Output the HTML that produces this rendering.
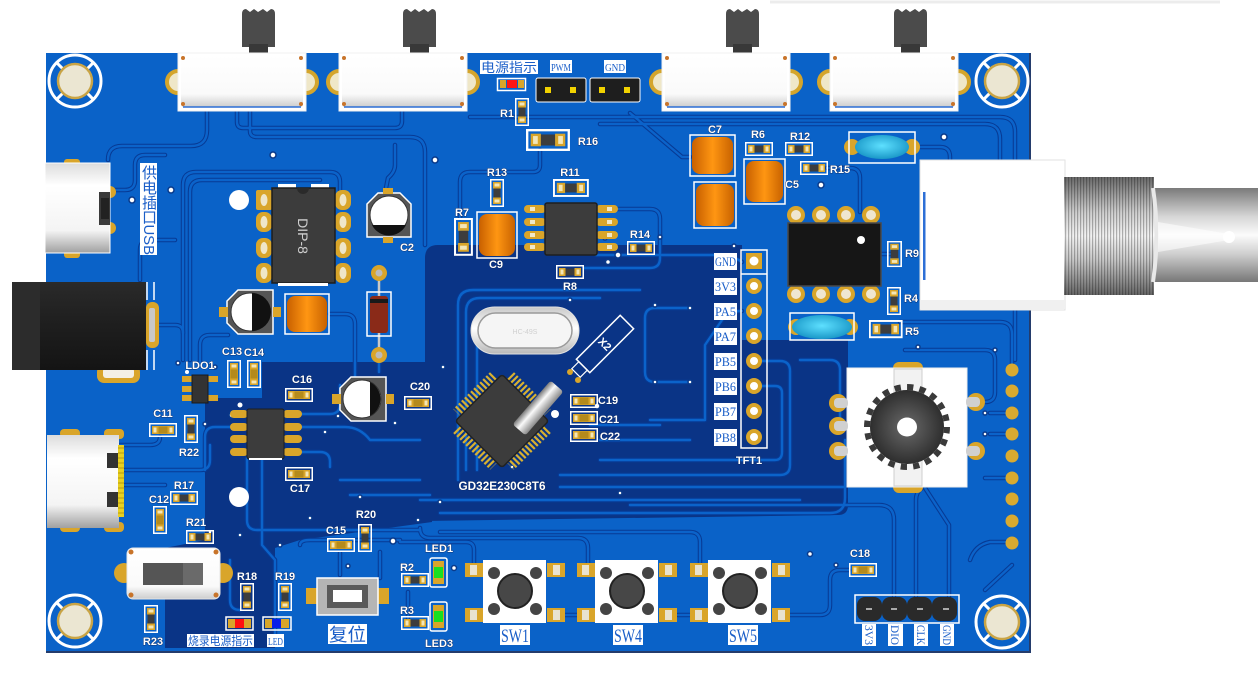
<!DOCTYPE html>
<html><head><meta charset="utf-8"><style>
html,body{margin:0;padding:0;background:#fff;}
svg{display:block;}
.l{font:bold 11px "Liberation Sans",sans-serif;fill:#fff;stroke:#0a2660;stroke-width:0.8px;paint-order:stroke;}
.cn{font-family:"Liberation Serif","Noto Serif CJK SC",serif;fill:#1a5ec8;}
.cs{font-family:"Liberation Sans","Noto Sans CJK SC",sans-serif;fill:#1a5ec8;}
</style></head><body>
<svg width="1258" height="688" viewBox="0 0 1258 688" xmlns="http://www.w3.org/2000/svg" xmlns:xlink="http://www.w3.org/1999/xlink">
<defs>
<linearGradient id="org" x1="0" y1="0" x2="1" y2="0"><stop offset="0" stop-color="#c86000"/><stop offset="0.5" stop-color="#ff9612"/><stop offset="1" stop-color="#c86200"/></linearGradient>
<linearGradient id="slv" x1="0" y1="0" x2="0" y2="1"><stop offset="0" stop-color="#c8c8c8"/><stop offset="0.45" stop-color="#ffffff"/><stop offset="1" stop-color="#b8b8b8"/></linearGradient>
<linearGradient id="cyl" x1="0" y1="0" x2="0" y2="1"><stop offset="0" stop-color="#7a7a7a"/><stop offset="0.4" stop-color="#fafafa"/><stop offset="1" stop-color="#8a8a8a"/></linearGradient>
<linearGradient id="brl" x1="0" y1="0" x2="0" y2="1"><stop offset="0" stop-color="#7a7a7a"/><stop offset="0.3" stop-color="#d5d5d5"/><stop offset="0.5" stop-color="#fbfbfb"/><stop offset="0.7" stop-color="#cfcfcf"/><stop offset="1" stop-color="#777"/></linearGradient>
<linearGradient id="thr" x1="0" y1="0" x2="0" y2="1"><stop offset="0" stop-color="#6a6a6a"/><stop offset="0.3" stop-color="#cfcfcf"/><stop offset="0.5" stop-color="#f2f2f2"/><stop offset="0.7" stop-color="#c8c8c8"/><stop offset="1" stop-color="#666"/></linearGradient>
<pattern id="thp" width="3" height="10" patternUnits="userSpaceOnUse"><rect x="0" y="0" width="1.2" height="10" fill="rgba(0,0,0,0.28)"/></pattern>
<radialGradient id="gear" cx="0.5" cy="0.5" r="0.5"><stop offset="0" stop-color="#6a6a6a"/><stop offset="1" stop-color="#2e2e2e"/></radialGradient>
<radialGradient id="cyan" cx="0.5" cy="0.45" r="0.55"><stop offset="0" stop-color="#5ee0ff"/><stop offset="1" stop-color="#1a98c8"/></radialGradient>
<linearGradient id="jack" x1="0" y1="0" x2="0" y2="1"><stop offset="0" stop-color="#2a2a2a"/><stop offset="0.5" stop-color="#1e1e1e"/><stop offset="1" stop-color="#141414"/></linearGradient>
<linearGradient id="usb" x1="0" y1="0" x2="0" y2="1"><stop offset="0" stop-color="#dcdcdc"/><stop offset="0.25" stop-color="#ffffff"/><stop offset="0.75" stop-color="#f4f4f4"/><stop offset="1" stop-color="#a0a0a0"/></linearGradient>
<linearGradient id="swg" x1="0" y1="0" x2="0" y2="1"><stop offset="0" stop-color="#ffffff"/><stop offset="0.75" stop-color="#fafafa"/><stop offset="1" stop-color="#cdcdcd"/></linearGradient>

<g id="rh"><rect x="0.75" y="0.75" width="26.5" height="12.5" fill="none" stroke="#fff" stroke-width="1.5"/><rect x="3" y="3" width="6.5" height="8" fill="#d9a52a"/><rect x="18.5" y="3" width="6.5" height="8" fill="#d9a52a"/><rect x="4.5" y="4.5" width="3" height="5" fill="#f3e6b8"/><rect x="20.5" y="4.5" width="3" height="5" fill="#f3e6b8"/><rect x="9.5" y="3.5" width="9" height="7" fill="#3d3d3d"/></g>
<g id="ch"><rect x="0.75" y="0.75" width="26.5" height="12.5" fill="none" stroke="#fff" stroke-width="1.5"/><rect x="3" y="3" width="22" height="8" fill="#d9a52a"/><rect x="4.5" y="4.5" width="3" height="5" fill="#f3e6b8"/><rect x="20.5" y="4.5" width="3" height="5" fill="#f3e6b8"/><rect x="9.5" y="3.5" width="9" height="7" fill="#b48a1c"/></g>
<g id="rv"><use xlink:href="#rh" transform="translate(14,0) rotate(90)"/></g>
<g id="cv"><use xlink:href="#ch" transform="translate(14,0) rotate(90)"/></g>

<g id="sw">
 <path d="M64 14 Q64 9 68 9 L72 12 L76 9 L80 12 L85 9 L89 12 L93 9 Q97 9 97 14 V47 H64 Z" fill="#4b4b4b"/>
 <rect x="71" y="44" width="19" height="9" fill="#383838"/>
 <circle cx="0" cy="82" r="11" fill="#efe7c8" stroke="#d4a52c" stroke-width="4"/>
 <circle cx="128" cy="82" r="11" fill="#efe7c8" stroke="#d4a52c" stroke-width="4"/>
 <rect x="0" y="53" width="128" height="58" fill="#fff" stroke="#f0f0f0"/>
 <rect x="3" y="55" width="122" height="52" rx="3" fill="url(#swg)"/>
 <line x1="5" y1="107" x2="123" y2="107" stroke="#2d6fd6" stroke-width="1.5"/>
 <circle cx="5" cy="58" r="2" fill="#c8742a"/><circle cx="123" cy="58" r="2" fill="#c8742a"/>
 <circle cx="5" cy="104" r="2" fill="#c8742a"/><circle cx="123" cy="104" r="2" fill="#c8742a"/>
</g>
<g id="mh">
 <circle r="26" fill="none" stroke="#fff" stroke-width="3"/>
 <g stroke="#fff" stroke-width="3"><line x1="12.7" y1="12.7" x2="18.4" y2="18.4"/><line x1="-12.7" y1="12.7" x2="-18.4" y2="18.4"/><line x1="12.7" y1="-12.7" x2="18.4" y2="-18.4"/><line x1="-12.7" y1="-12.7" x2="-18.4" y2="-18.4"/></g>
 <circle r="17" fill="#ebe6d2" stroke="#c9a445" stroke-width="2.5"/>
</g>
<g id="tact">
 <g fill="#d9a52a"><rect x="-50" y="-28" width="18" height="14"/><rect x="32" y="-28" width="18" height="14"/><rect x="-50" y="17" width="18" height="14"/><rect x="32" y="17" width="18" height="14"/></g>
 <g fill="#e8e2d0"><rect x="-45" y="-26" width="7" height="10"/><rect x="38" y="-26" width="7" height="10"/><rect x="-45" y="19" width="7" height="10"/><rect x="38" y="19" width="7" height="10"/></g>
 <rect x="-32" y="-31" width="63" height="63" fill="#fff"/>
 <g fill="#444"><circle cx="-21" cy="-18" r="6"/><circle cx="21" cy="-18" r="6"/><circle cx="-21" cy="18" r="6"/><circle cx="21" cy="18" r="6"/></g>
 <circle r="17" fill="#474747" stroke="#222" stroke-width="2"/>
</g>
<g id="tr" fill="none" stroke-linecap="round" stroke-linejoin="round">
 <path d="M207 111 V130 Q207 146 191 146 H122 Q108 146 108 160"/>
 <path d="M237 111 V122 Q237 128 243 128 H395 Q402 128 402 121 V111"/>
 <path d="M250 111 V131 Q250 137 257 137 H410 Q425 137 425 152 V245"/>
 <path d="M183 360 V185 Q183 172 196 172 H330 Q340 172 340 182 V190"/>
 <path d="M190 360 V192 Q190 180 202 180 H320"/>
 <path d="M470 117 H1000 Q1015 117 1015 132 V360"/>
 <path d="M600 124 H985 Q1000 124 1000 139 V180"/>
 <path d="M630 113 L682 157 H690"/>
 <path d="M395 145 V165 Q395 172 388 178 L385 193"/>
 <path d="M540 150 V165 Q540 172 533 172 H470 Q460 172 460 182 V218"/>
 <path d="M618 209 H650 Q660 209 660 219 V258 Q660 268 650 268 H584"/>
 <path d="M827 168 H850 Q860 168 860 178 V212"/>
 <path d="M913 147 H940 Q950 147 950 157 V175"/>
 <path d="M881 254 H895"/>
 <path d="M900 322 H1000 Q1012 322 1012 334 V370"/>
 <path d="M990 413 H1012 M990 434 H1012 M985 478 H1012"/>
 <path d="M967 402 H985 Q995 402 995 392 V360 Q995 350 985 350 H905"/>
 <path d="M474 568 V550 Q474 542 466 542 H400"/>
 <path d="M588 568 V548 Q588 538 578 538 H430 Q420 538 420 528"/>
 <path d="M700 568 V542 Q700 532 690 532 H440"/>
 <path d="M565 615 H588 M678 615 H700"/>
 <path d="M790 615 H820 Q830 615 830 605 V580 Q830 570 840 570 H849"/>
 <path d="M894 596 V520 Q894 505 879 505 H630"/>
 <path d="M916 596 V500 Q916 492 922 488"/>
 <path d="M949 596 V525 L925 488"/>
 <path d="M970 560 Q975 545 990 542 L1012 542"/>
 <path d="M985 590 L1012 565"/>
 <path d="M120 445 H150 Q160 445 160 437"/>
 <path d="M125 470 H200 Q210 470 210 460 V445"/>
 <path d="M125 485 H165"/>
 <path d="M200 365 V345 Q200 335 210 335 H228"/>
 <path d="M110 190 H125 Q135 190 135 180 V165 Q135 155 145 155 H165"/>
 <path d="M158 325 H175 Q183 325 183 333"/>
 <path d="M330 314 H345 Q355 314 355 324 V377"/>
 <path d="M379 355 V372"/>
 <path d="M340 553 V575 M380 552 V578"/>
 <path d="M408 592 V618"/>
 <path d="M458 480 V305 Q458 290 473 290 H640"/>
 <path d="M466 470 V312 Q466 298 480 298 H600"/>
 <path d="M477 470 V345"/>
 <path d="M560 487 H845"/>
 <path d="M420 500 H800"/>
 <path d="M440 513 H830 Q845 513 845 498 V440"/>
 <path d="M690 308 H655 Q645 308 645 318 V372 Q645 382 655 382 H690"/>
 <path d="M762 361 H780 Q790 361 790 371 V465 Q790 475 780 475 H560"/>
 <path d="M762 386 H775 Q782 386 782 393 V452 Q782 460 775 460 H600"/>
 <path d="M742 311 Q728 311 722 320 L705 345 V420 H650"/>
 <path d="M596 255 H722 Q732 255 742 262"/>
 <path d="M600 440 H690 M590 425 H660"/>
 <path d="M800 360 H830 Q840 360 840 370 V420"/>
 <path d="M302 414 H330 Q340 414 340 404 V385"/>
 <path d="M302 427 H345 Q360 427 370 440 H420"/>
 <path d="M302 452 H320 Q330 452 330 462 V467"/>
 <path d="M230 427 H215 Q205 427 205 437 V470"/>
 <path d="M247 458 V520 Q247 530 257 530 H420"/>
 <path d="M262 458 V545 L275 560 V640"/>
 <path d="M340 480 H420 M350 495 H430"/>
 <path d="M230 560 V600 Q230 610 240 610"/>
 <path d="M300 545 Q300 540 310 540 H400"/>
 <path d="M140 280 V250 Q140 240 150 240 H175"/>
</g>
</defs>

<!-- faint top line -->
<line x1="770" y1="2" x2="1220" y2="2" stroke="#ececec" stroke-width="3"/>

<!-- board -->
<rect x="46" y="53" width="985" height="600" fill="#0a62c8"/>
<line x1="46" y1="652" x2="1031" y2="652" stroke="#243c6c" stroke-width="2"/>
<line x1="1030" y1="53" x2="1030" y2="653" stroke="#243c6c" stroke-width="2"/>

<!-- navy pours -->
<path d="M425 258 Q425 245 438 245 L742 245 L742 340 L848 340 L848 505 Q848 515 838 515 L425 521 Z" fill="#0a3486"/>
<path d="M205 398 L262 398 L262 362 L432 362 L432 522 L300 540 L275 548 L275 648 L165 648 L165 548 L205 540 Z" fill="#0a3486"/>

<!-- traces -->
<use xlink:href="#tr" stroke="#073a94" stroke-width="4.5"/>
<use xlink:href="#tr" stroke="#0b63ca" stroke-width="2.4"/>

<!-- vias -->
<g fill="#fff" stroke="#0a3a8a" stroke-width="1.5">
<circle cx="132" cy="200" r="3"/><circle cx="171" cy="190" r="3"/><circle cx="273" cy="155" r="3"/><circle cx="435" cy="160" r="3"/><circle cx="944" cy="137" r="3"/><circle cx="821" cy="185" r="3"/><circle cx="872" cy="276" r="2.5"/><circle cx="608" cy="262" r="2.5"/><circle cx="660" cy="237" r="2"/><circle cx="734" cy="246" r="2"/><circle cx="655" cy="305" r="2"/><circle cx="690" cy="308" r="2"/><circle cx="655" cy="382" r="2"/><circle cx="690" cy="382" r="2"/><circle cx="570" cy="300" r="2"/><circle cx="443" cy="367" r="2"/><circle cx="440" cy="502" r="2"/><circle cx="620" cy="493" r="2"/><circle cx="810" cy="554" r="2.5"/><circle cx="836" cy="565" r="2"/><circle cx="900" cy="479" r="2"/><circle cx="995" cy="350" r="2"/><circle cx="985" cy="413" r="2"/><circle cx="985" cy="434" r="2"/><circle cx="918" cy="347" r="2"/><circle cx="276" cy="444" r="2"/><circle cx="232" cy="415" r="3"/><circle cx="205" cy="424" r="2"/><circle cx="215" cy="367" r="2"/><circle cx="178" cy="363" r="2"/><circle cx="210" cy="532" r="2"/><circle cx="240" cy="535" r="2"/><circle cx="280" cy="545" r="2"/><circle cx="310" cy="518" r="2"/><circle cx="393" cy="541" r="3"/><circle cx="348" cy="566" r="2"/><circle cx="454" cy="568" r="2.5"/><circle cx="360" cy="497" r="2"/><circle cx="418" cy="520" r="2"/><circle cx="325" cy="432" r="2"/><circle cx="338" cy="416" r="2"/><circle cx="395" cy="423" r="2"/><circle cx="512" cy="467" r="2"/><circle cx="597" cy="406" r="3"/><circle cx="605" cy="238" r="2"/><circle cx="618" cy="255" r="3"/>
</g>

<!-- mounting holes -->
<use xlink:href="#mh" transform="translate(75,81)"/>
<use xlink:href="#mh" transform="translate(1002,81)"/>
<use xlink:href="#mh" transform="translate(75,621)"/>
<use xlink:href="#mh" transform="translate(1002,622)"/>

<!-- top slide switches -->
<use xlink:href="#sw" x="178"/>
<use xlink:href="#sw" x="339"/>
<use xlink:href="#sw" x="662"/>
<use xlink:href="#sw" x="830"/>

<!-- top labels & headers -->
<rect x="480" y="60" width="58" height="14" fill="#fff"/>
<text x="509" y="72" class="cs" font-size="13" text-anchor="middle" textLength="56" lengthAdjust="spacingAndGlyphs">电源指示</text>
<rect x="550" y="60" width="22" height="13" fill="#fff"/>
<text x="561" y="71" class="cn" font-size="10" text-anchor="middle" textLength="20" lengthAdjust="spacingAndGlyphs">PWM</text>
<rect x="604" y="60" width="22" height="13" fill="#fff"/>
<text x="615" y="71" class="cn" font-size="10" text-anchor="middle" textLength="20" lengthAdjust="spacingAndGlyphs">GND</text>
<rect x="536" y="78" width="50" height="24" rx="2" fill="#1e1e1e" stroke="#fff" stroke-width="1"/>
<rect x="590" y="78" width="50" height="24" rx="2" fill="#1e1e1e" stroke="#fff" stroke-width="1"/>
<g fill="#f2d200"><rect x="545" y="87" width="6" height="6"/><rect x="570" y="87" width="6" height="6"/><rect x="599" y="87" width="6" height="6"/><rect x="624" y="87" width="6" height="6"/></g>
<rect x="497.5" y="78.5" width="28" height="12" fill="none" stroke="#fff" stroke-width="1.5"/>
<rect x="500" y="80" width="6" height="8" fill="#d9a52a"/><rect x="518" y="80" width="6" height="8" fill="#d9a52a"/>
<rect x="507" y="80" width="10" height="8" fill="#ff1414"/>

<!-- resistors / caps -->
<use xlink:href="#rv" transform="translate(515,98)"/>
<use xlink:href="#rh" transform="translate(526,129) scale(1.57)"/>
<use xlink:href="#rv" transform="translate(490,179)"/>
<use xlink:href="#rh" transform="translate(553,179) scale(1.28)"/>
<use xlink:href="#rv" transform="translate(454,218) scale(1.35)"/>
<use xlink:href="#rh" transform="translate(556,265)"/>
<use xlink:href="#rh" transform="translate(627,241)"/>
<use xlink:href="#rh" transform="translate(745,142)"/>
<use xlink:href="#rh" transform="translate(785,142)"/>
<use xlink:href="#rh" transform="translate(800,161)"/>
<use xlink:href="#rv" transform="translate(887,241) scale(1.07,0.93)"/>
<use xlink:href="#rv" transform="translate(887,287)"/>
<use xlink:href="#rh" transform="translate(869,320) scale(1.2,1.3)"/>
<use xlink:href="#rh" transform="translate(170,491)"/>
<use xlink:href="#rh" transform="translate(186,530)"/>
<use xlink:href="#rh" transform="translate(401,573)"/>
<use xlink:href="#rh" transform="translate(401,616)"/>
<use xlink:href="#rv" transform="translate(184,415)"/>
<use xlink:href="#rv" transform="translate(144,605)"/>
<use xlink:href="#rv" transform="translate(240,583)"/>
<use xlink:href="#rv" transform="translate(278,583)"/>
<use xlink:href="#rv" transform="translate(358,524)"/>
<use xlink:href="#ch" transform="translate(285,388)"/>
<use xlink:href="#ch" transform="translate(285,467)"/>
<use xlink:href="#ch" transform="translate(404,396)"/>
<use xlink:href="#ch" transform="translate(570,394)"/>
<use xlink:href="#ch" transform="translate(570,411)"/>
<use xlink:href="#ch" transform="translate(570,428)"/>
<use xlink:href="#ch" transform="translate(149,423)"/>
<use xlink:href="#ch" transform="translate(327,538)"/>
<use xlink:href="#ch" transform="translate(849,563)"/>
<use xlink:href="#cv" transform="translate(227,360)"/>
<use xlink:href="#cv" transform="translate(247,360)"/>
<use xlink:href="#cv" transform="translate(153,506)"/>

<!-- orange tantalum caps -->
<g stroke="#fff" stroke-width="1.5">
<rect x="690" y="135" width="45" height="41" fill="none"/><rect x="694" y="182" width="42" height="46" fill="none"/><rect x="744" y="159" width="41" height="45" fill="none"/><rect x="477" y="212" width="40" height="46" fill="none"/><rect x="285" y="294" width="44" height="40" fill="none"/>
</g>
<g fill="url(#org)">
<rect x="692" y="137" width="41" height="37" rx="8"/><rect x="696" y="184" width="38" height="42" rx="8"/><rect x="746" y="161" width="37" height="41" rx="8"/><rect x="479" y="214" width="36" height="42" rx="8"/><rect x="287" y="296" width="40" height="36" rx="8"/>
</g>

<!-- cyan parts -->
<circle cx="852" cy="147" r="8" fill="#d9a52a"/><circle cx="912" cy="147" r="8" fill="#d9a52a"/>
<rect x="849" y="132" width="66" height="31" fill="none" stroke="#fff" stroke-width="1.5"/>
<ellipse cx="882" cy="147" rx="27" ry="12" fill="url(#cyan)"/>
<circle cx="796" cy="327" r="8" fill="#d9a52a"/><circle cx="850" cy="327" r="8" fill="#d9a52a"/>
<rect x="790" y="313" width="64" height="27" fill="none" stroke="#fff" stroke-width="1.5"/>
<ellipse cx="822" cy="327" rx="30" ry="12" fill="url(#cyan)"/>

<!-- SOIC8 top -->
<g fill="#d9a52a"><rect x="524" y="205" width="22" height="8" rx="4"/><rect x="524" y="218" width="22" height="8" rx="4"/><rect x="524" y="231" width="22" height="8" rx="4"/><rect x="524" y="243" width="22" height="8" rx="4"/><rect x="596" y="205" width="22" height="8" rx="4"/><rect x="596" y="218" width="22" height="8" rx="4"/><rect x="596" y="231" width="22" height="8" rx="4"/><rect x="596" y="243" width="22" height="8" rx="4"/></g>
<g fill="#f1e8c8"><rect x="530" y="207" width="5" height="4"/><rect x="530" y="220" width="5" height="4"/><rect x="530" y="233" width="5" height="4"/><rect x="530" y="245" width="5" height="4"/><rect x="607" y="207" width="5" height="4"/><rect x="607" y="220" width="5" height="4"/><rect x="607" y="233" width="5" height="4"/><rect x="607" y="245" width="5" height="4"/></g>
<rect x="545" y="203" width="52" height="52" rx="2" fill="#3c3c3c" stroke="#1e1e1e" stroke-width="1.5"/>

<!-- DIP-8 left -->
<g fill="#d9a52a"><rect x="256" y="190" width="16" height="20" rx="2"/><rect x="256" y="212" width="16" height="20" rx="7"/><rect x="256" y="238" width="16" height="20" rx="7"/><rect x="256" y="263" width="16" height="20" rx="7"/><rect x="335" y="190" width="16" height="20" rx="7"/><rect x="335" y="212" width="16" height="20" rx="7"/><rect x="335" y="238" width="16" height="20" rx="7"/><rect x="335" y="263" width="16" height="20" rx="7"/></g>
<g fill="#efe6c8"><ellipse cx="264" cy="200" rx="3.5" ry="6"/><ellipse cx="264" cy="222" rx="3.5" ry="6"/><ellipse cx="264" cy="248" rx="3.5" ry="6"/><ellipse cx="264" cy="273" rx="3.5" ry="6"/><ellipse cx="343" cy="200" rx="3.5" ry="6"/><ellipse cx="343" cy="222" rx="3.5" ry="6"/><ellipse cx="343" cy="248" rx="3.5" ry="6"/><ellipse cx="343" cy="273" rx="3.5" ry="6"/></g>
<rect x="278" y="184" width="18" height="5" fill="#fff"/><rect x="311" y="184" width="18" height="5" fill="#fff"/>
<rect x="272" y="188" width="63" height="95" fill="#3c3c3c" stroke="#1c1c1c" stroke-width="1.5"/>
<path d="M297 188 A6 6 0 0 0 309 188 Z" fill="#2a2a2a"/>
<text transform="translate(298,236) rotate(90)" font-family="Liberation Sans,sans-serif" font-size="14" fill="#cfcfcf" text-anchor="middle">DIP-8</text>
<rect x="278" y="283" width="50" height="3" fill="#fff"/>

<!-- electrolytic caps -->
<path d="M378 193 H400 L411 204 V237 H367 V204 Z" fill="#555" stroke="#fff" stroke-width="1.5"/>
<rect x="383" y="188" width="10" height="6" fill="#d9a52a"/><rect x="383" y="237" width="10" height="6" fill="#d9a52a"/>
<circle cx="389" cy="215" r="19" fill="#fff" stroke="#333"/>
<path d="M372 225 H406 A19 19 0 0 1 372 225 Z" fill="#111"/>
<path d="M238 290 H273 V334 H238 L227 323 V301 Z" fill="#555" stroke="#fff" stroke-width="1.5"/>
<rect x="219" y="307" width="9" height="10" fill="#d9a52a"/><rect x="273" y="307" width="8" height="10" fill="#d9a52a"/>
<circle cx="250" cy="312" r="19" fill="#fff" stroke="#333"/>
<path d="M252 293 A19 19 0 0 1 252 331 Z" fill="#111"/>
<path d="M351 377 H386 V421 H351 L340 410 V388 Z" fill="#555" stroke="#fff" stroke-width="1.5"/>
<rect x="332" y="394" width="9" height="10" fill="#d9a52a"/><rect x="386" y="394" width="8" height="10" fill="#d9a52a"/>
<circle cx="362" cy="399" r="19" fill="#fff" stroke="#333"/>
<path d="M370 382 A19 19 0 0 1 370 416 Z" fill="#111"/>

<!-- diode -->
<line x1="379" y1="280" x2="379" y2="348" stroke="#c8c8c8" stroke-width="2.5"/>
<circle cx="379" cy="273" r="8" fill="#d9a52a"/><circle cx="379" cy="273" r="3.5" fill="#bbb"/>
<circle cx="379" cy="355" r="8" fill="#d9a52a"/><circle cx="379" cy="355" r="3.5" fill="#bbb"/>
<rect x="367" y="292" width="24" height="44" fill="none" stroke="#fff" stroke-width="1.5"/>
<rect x="370" y="296" width="18" height="37" rx="3" fill="#8a2a18"/>
<rect x="370" y="299" width="18" height="4" fill="#1a1a1a"/>

<!-- white holes -->
<circle cx="239" cy="200" r="10" fill="#fff"/>
<circle cx="239" cy="497" r="10" fill="#fff"/>

<!-- USB top-left -->
<rect x="64" y="159" width="16" height="8" rx="3" fill="#d9a52a"/><rect x="64" y="250" width="16" height="8" rx="3" fill="#d9a52a"/>
<circle cx="110" cy="192" r="6" fill="#d9a52a"/><circle cx="110" cy="228" r="6" fill="#d9a52a"/>
<rect x="45" y="163" width="65" height="90" fill="url(#usb)" stroke="#fff"/>
<rect x="99" y="192" width="11" height="33" fill="#3a3a3a"/><rect x="101" y="198" width="8" height="21" fill="#222"/>
<rect x="140" y="163" width="17" height="92" fill="#fff"/>
<text x="148.5" y="165" class="cs" font-size="15" style="writing-mode:vertical-rl;glyph-orientation-vertical:0" textLength="90" lengthAdjust="spacingAndGlyphs">供电插口USB</text>

<!-- DC jack -->
<rect x="97" y="365" width="43" height="18" rx="7" fill="#d9a52a"/><rect x="103" y="368" width="31" height="10" rx="3" fill="#f4f0e4"/>
<rect x="146" y="302" width="13" height="46" rx="6" fill="#d9a52a"/><rect x="149" y="308" width="6" height="34" rx="2" fill="#c8c8c8"/>
<path d="M147 282 V300 M154 282 V300 M147 350 V370 M154 350 V370" stroke="#fff" stroke-width="1.5"/>
<rect x="12" y="282" width="134" height="88" fill="url(#jack)"/>
<rect x="12" y="282" width="28" height="88" fill="#2c2c2c"/>

<!-- USB-C lower -->
<g fill="#d9a52a"><rect x="60" y="429" width="20" height="9" rx="4"/><rect x="104" y="429" width="20" height="10" rx="4"/><rect x="60" y="523" width="20" height="9" rx="4"/><rect x="104" y="522" width="20" height="10" rx="4"/></g>
<rect x="47" y="435" width="72" height="93" fill="url(#usb)"/>
<rect x="118" y="445" width="6" height="72" fill="#e8d020"/>
<path d="M118 448 H124 M118 453 H124 M118 458 H124 M118 463 H124 M118 468 H124 M118 473 H124 M118 478 H124 M118 483 H124 M118 488 H124 M118 493 H124 M118 498 H124 M118 503 H124 M118 508 H124 M118 513 H124" stroke="#b89a10" stroke-width="1"/>
<rect x="107" y="453" width="11" height="15" fill="#333"/><rect x="107" y="492" width="11" height="15" fill="#333"/>

<!-- LDO1 -->
<g fill="#d9a52a"><rect x="182" y="376" width="10" height="6"/><rect x="182" y="386" width="10" height="6"/><rect x="182" y="395" width="10" height="6"/><rect x="208" y="376" width="10" height="6"/><rect x="208" y="395" width="10" height="6"/></g>
<rect x="192" y="375" width="16" height="28" fill="#333" stroke="#1a1a1a"/>
<circle cx="187" cy="372" r="2" fill="#fff"/>

<!-- SOIC8 lower -->
<g fill="#d9a52a"><rect x="230" y="410" width="18" height="8" rx="4"/><rect x="230" y="423" width="18" height="8" rx="4"/><rect x="230" y="435" width="18" height="8" rx="4"/><rect x="230" y="448" width="18" height="8" rx="4"/><rect x="283" y="410" width="19" height="8" rx="4"/><rect x="283" y="423" width="19" height="8" rx="4"/><rect x="283" y="435" width="19" height="8" rx="4"/><rect x="283" y="448" width="19" height="8" rx="4"/></g>
<rect x="247" y="409" width="37" height="50" rx="2" fill="#3c3c3c" stroke="#1e1e1e"/>
<rect x="249" y="458" width="33" height="2" fill="#fff"/><circle cx="240" cy="405" r="2.5" fill="#fff"/>

<!-- small slide switch -->
<circle cx="124" cy="573" r="10" fill="#d9a52a"/><circle cx="223" cy="573" r="10" fill="#d9a52a"/>
<rect x="127" y="548" width="93" height="51" rx="6" fill="url(#swg)" stroke="#e6e6e6"/>
<g fill="#c8742a"><circle cx="131" cy="552" r="2.5"/><circle cx="216" cy="552" r="2.5"/><circle cx="131" cy="595" r="2.5"/><circle cx="216" cy="595" r="2.5"/></g>
<rect x="143" y="563" width="60" height="22" fill="#555"/><rect x="183" y="563" width="20" height="22" fill="#6a6a6a"/>

<!-- LEDs bottom -->
<rect x="226" y="617" width="27" height="13" fill="none" stroke="#fff" stroke-width="1.5"/>
<rect x="228" y="619" width="7" height="9" fill="#d9a52a"/><rect x="244" y="619" width="7" height="9" fill="#d9a52a"/><rect x="235" y="619" width="9" height="9" fill="#ff1010"/>
<rect x="263" y="617" width="28" height="13" fill="none" stroke="#fff" stroke-width="1.5"/>
<rect x="265" y="619" width="7" height="9" fill="#d9a52a"/><rect x="281" y="619" width="8" height="9" fill="#d9a52a"/><rect x="272" y="619" width="9" height="9" fill="#0a1ee8"/>
<rect x="430" y="558" width="17" height="29" rx="2" fill="none" stroke="#fff" stroke-width="1.5"/>
<rect x="433" y="561" width="11" height="23" fill="#d9a52a"/><rect x="434" y="567" width="9" height="11" fill="#18e020"/>
<rect x="430" y="602" width="17" height="29" rx="2" fill="none" stroke="#fff" stroke-width="1.5"/>
<rect x="433" y="605" width="11" height="23" fill="#d9a52a"/><rect x="434" y="611" width="9" height="11" fill="#18e020"/>

<!-- reset button -->
<rect x="306" y="588" width="12" height="16" fill="#d9a52a"/><rect x="377" y="588" width="12" height="16" fill="#d9a52a"/>
<rect x="317" y="578" width="61" height="37" fill="#b5b5b5" stroke="#fff" stroke-width="1.5"/>
<rect x="327" y="585" width="41" height="23" fill="#5a5a5a"/><rect x="333" y="590" width="29" height="12" fill="#fff"/>
<rect x="328" y="624" width="39" height="20" fill="#fff"/>
<text x="347.5" y="641" class="cs" font-size="18" text-anchor="middle" textLength="37" lengthAdjust="spacingAndGlyphs">复位</text>

<!-- tact switches -->
<use xlink:href="#tact" transform="translate(515,591)"/>
<use xlink:href="#tact" transform="translate(627,591)"/>
<use xlink:href="#tact" transform="translate(740,591)"/>
<rect x="500" y="625" width="30" height="20" fill="#fff"/><text x="515" y="642" class="cn" font-size="19" text-anchor="middle" textLength="28" lengthAdjust="spacingAndGlyphs">SW1</text>
<rect x="613" y="625" width="30" height="20" fill="#fff"/><text x="628" y="642" class="cn" font-size="19" text-anchor="middle" textLength="28" lengthAdjust="spacingAndGlyphs">SW4</text>
<rect x="728" y="625" width="30" height="20" fill="#fff"/><text x="743" y="642" class="cn" font-size="19" text-anchor="middle" textLength="28" lengthAdjust="spacingAndGlyphs">SW5</text>

<!-- crystal HC-49S -->
<rect x="471" y="307" width="108" height="47" rx="23.5" fill="url(#slv)" stroke="#e0e0e0"/>
<rect x="478" y="313" width="94" height="35" rx="17.5" fill="#f5f5f5" stroke="#9a9a9a" stroke-width="1.5"/>
<text x="525" y="334" font-family="Liberation Sans,sans-serif" font-size="7" fill="#d0d0d0" text-anchor="middle">HC-49S</text>

<!-- MCU -->
<g transform="translate(502,421) rotate(45)">
 <g stroke="#d8b030" stroke-width="10" stroke-dasharray="2.2 2.1">
  <line x1="-26" y1="-38" x2="26" y2="-38"/><line x1="-26" y1="38" x2="26" y2="38"/><line x1="-38" y1="-26" x2="-38" y2="26"/><line x1="38" y1="-26" x2="38" y2="26"/>
 </g>
 <rect x="-33" y="-33" width="66" height="66" rx="3" fill="#3c3c3c" stroke="#222" stroke-width="1.5"/>
</g>
<!-- X2 -->
<g transform="translate(605,344) rotate(-45)">
 <rect x="-31" y="-9.5" width="62" height="19" fill="none" stroke="#fff" stroke-width="1.5"/>
 <rect x="-41" y="-6" width="10" height="12" fill="none" stroke="#fff" stroke-width="1.2"/>
 <text transform="rotate(90)" x="0" y="4" font-family="Liberation Sans,sans-serif" font-weight="bold" font-size="11" fill="#fff" text-anchor="middle">X2</text>
</g>
<circle cx="570" cy="372" r="3" fill="#d9a52a"/><circle cx="578" cy="380" r="3" fill="#d9a52a"/>
<g transform="translate(538,408) rotate(-49)"><rect x="-29" y="-8.5" width="58" height="17" rx="3" fill="url(#cyl)"/></g>
<circle cx="555" cy="414" r="4" fill="#fff"/>

<!-- TFT header -->
<rect x="741" y="250" width="26" height="198" fill="none" stroke="#fff" stroke-width="1.5"/>
<line x1="741" y1="274" x2="767" y2="274" stroke="#fff" stroke-width="1.5"/>
<rect x="746" y="253" width="16" height="16" fill="#d9a52a"/><circle cx="754" cy="261" r="4.5" fill="#fff"/>
<g fill="#fff" stroke="#d9a52a" stroke-width="4"><circle cx="754" cy="286" r="6"/><circle cx="754" cy="311" r="6"/><circle cx="754" cy="336" r="6"/><circle cx="754" cy="361" r="6"/><circle cx="754" cy="386" r="6"/><circle cx="754" cy="411" r="6"/><circle cx="754" cy="437" r="6"/></g>
<g fill="#fff"><rect x="714" y="253" width="23" height="17"/><rect x="714" y="278" width="23" height="17"/><rect x="714" y="303" width="23" height="17"/><rect x="714" y="328" width="23" height="17"/><rect x="714" y="353" width="23" height="17"/><rect x="714" y="378" width="23" height="17"/><rect x="714" y="403" width="23" height="17"/><rect x="714" y="429" width="23" height="17"/></g>
<g class="cn" font-size="13" text-anchor="middle" lengthAdjust="spacingAndGlyphs">
<text x="725.5" y="266" textLength="21" lengthAdjust="spacingAndGlyphs">GND</text>
<text x="725.5" y="291" textLength="21" lengthAdjust="spacingAndGlyphs">3V3</text>
<text x="725.5" y="316" textLength="21" lengthAdjust="spacingAndGlyphs">PA5</text>
<text x="725.5" y="341" textLength="21" lengthAdjust="spacingAndGlyphs">PA7</text>
<text x="725.5" y="366" textLength="21" lengthAdjust="spacingAndGlyphs">PB5</text>
<text x="725.5" y="391" textLength="21" lengthAdjust="spacingAndGlyphs">PB6</text>
<text x="725.5" y="416" textLength="21" lengthAdjust="spacingAndGlyphs">PB7</text>
<text x="725.5" y="442" textLength="21" lengthAdjust="spacingAndGlyphs">PB8</text>
</g>

<!-- DIP8 right -->
<g stroke="#c8c0b0" stroke-width="6"><line x1="796" y1="216" x2="796" y2="226"/><line x1="821" y1="216" x2="821" y2="226"/><line x1="846" y1="216" x2="846" y2="226"/><line x1="871" y1="216" x2="871" y2="226"/><line x1="796" y1="283" x2="796" y2="293"/><line x1="821" y1="283" x2="821" y2="293"/><line x1="846" y1="283" x2="846" y2="293"/><line x1="871" y1="283" x2="871" y2="293"/></g>
<g fill="#efe6d0" stroke="#d9a52a" stroke-width="4"><circle cx="796" cy="215" r="7"/><circle cx="821" cy="215" r="7"/><circle cx="846" cy="215" r="7"/><circle cx="871" cy="215" r="7"/><circle cx="796" cy="294" r="7"/><circle cx="821" cy="294" r="7"/><circle cx="846" cy="294" r="7"/><circle cx="871" cy="294" r="7"/></g>
<rect x="788" y="223" width="93" height="63" fill="#161616" stroke="#4a4a4a" stroke-width="1.5"/>
<circle cx="861" cy="240" r="4" fill="#fff"/>

<!-- encoder -->
<rect x="893" y="362" width="30" height="12" rx="6" fill="#d9a52a"/>
<rect x="893" y="481" width="30" height="12" rx="6" fill="#d9a52a"/>
<g fill="#d9a52a"><circle cx="838" cy="403" r="9"/><circle cx="838" cy="426" r="9"/><circle cx="838" cy="451" r="9"/><circle cx="976" cy="402" r="9"/><circle cx="976" cy="451" r="9"/></g>
<rect x="847" y="368" width="120" height="119" fill="#fff" stroke="#eee"/>
<g fill="#d0d0d0"><rect x="834" y="398" width="14" height="10" rx="4"/><rect x="834" y="421" width="14" height="10" rx="4"/><rect x="834" y="446" width="14" height="10" rx="4"/><rect x="966" y="397" width="14" height="10" rx="4"/><rect x="966" y="446" width="14" height="10" rx="4"/></g>
<rect x="894" y="369" width="28" height="26" fill="#f2f2f2" stroke="#cfcfcf"/>
<rect x="894" y="460" width="28" height="26" fill="#f2f2f2" stroke="#cfcfcf"/>
<circle cx="907" cy="427" r="37" fill="url(#gear)"/>
<circle cx="907" cy="427" r="40" fill="none" stroke="#3a3a3a" stroke-width="6" stroke-dasharray="6.3 6.25"/>
<ellipse cx="907" cy="427" rx="10" ry="9.5" fill="#fff"/>

<!-- right pad column -->
<g fill="#d9aa30"><circle cx="1012" cy="370" r="6.5"/><circle cx="1012" cy="391" r="6.5"/><circle cx="1012" cy="413" r="6.5"/><circle cx="1012" cy="434" r="6.5"/><circle cx="1012" cy="456" r="6.5"/><circle cx="1012" cy="478" r="6.5"/><circle cx="1012" cy="499" r="6.5"/><circle cx="1012" cy="521" r="6.5"/><circle cx="1012" cy="543" r="6.5"/></g>

<!-- bottom right header -->
<rect x="855" y="595" width="104" height="28" fill="none" stroke="#fff" stroke-width="1.5"/>
<g fill="#2a2a2a"><rect x="857" y="597" width="25" height="24" rx="8"/><rect x="882" y="597" width="25" height="24" rx="8"/><rect x="907" y="597" width="25" height="24" rx="8"/><rect x="932" y="597" width="25" height="24" rx="8"/></g>
<g fill="#aaa"><rect x="866" y="608" width="6" height="2"/><rect x="891" y="608" width="6" height="2"/><rect x="917" y="608" width="6" height="2"/><rect x="943" y="608" width="6" height="2"/></g>
<g fill="#fff"><rect x="862" y="624" width="14" height="22"/><rect x="888" y="624" width="15" height="22"/><rect x="914" y="624" width="14" height="22"/><rect x="940" y="624" width="14" height="22"/></g>
<g class="cn" font-size="12">
<text transform="translate(865,635) rotate(90)" text-anchor="middle" textLength="20" lengthAdjust="spacingAndGlyphs">3V3</text>
<text transform="translate(891,635) rotate(90)" text-anchor="middle" textLength="20" lengthAdjust="spacingAndGlyphs">DIO</text>
<text transform="translate(917,635) rotate(90)" text-anchor="middle" textLength="20" lengthAdjust="spacingAndGlyphs">CLK</text>
<text transform="translate(943,635) rotate(90)" text-anchor="middle" textLength="20" lengthAdjust="spacingAndGlyphs">GND</text>
</g>

<!-- BNC connector -->
<rect x="920" y="160" width="145" height="150" fill="#fff" stroke="#e2e2e2"/>
<rect x="921" y="300" width="143" height="10" fill="#f0f0f0"/>
<rect x="923" y="192" width="2.5" height="88" fill="#2d6fd6"/>
<rect x="1064" y="177" width="90" height="118" fill="url(#thr)"/>
<rect x="1064" y="177" width="90" height="118" fill="url(#thp)"/>
<rect x="1153" y="188" width="105" height="94" fill="url(#brl)"/>
<path d="M1153 188 Q1160 235 1153 282" fill="none" stroke="#e8e8e8" stroke-width="4"/>
<polygon points="1158,222 1229,234 1229,240 1158,252" fill="rgba(255,255,255,0.55)"/>
<circle cx="1229" cy="237" r="6" fill="#fff"/>

<!-- labels -->
<g class="l" text-anchor="middle">
<text x="507" y="117">R1</text>
<text x="588" y="145">R16</text>
<text x="497" y="176">R13</text>
<text x="570" y="176">R11</text>
<text x="462" y="216">R7</text>
<text x="496" y="268">C9</text>
<text x="570" y="290">R8</text>
<text x="407" y="251">C2</text>
<text x="640" y="238">R14</text>
<text x="715" y="133">C7</text>
<text x="758" y="138">R6</text>
<text x="800" y="140">R12</text>
<text x="840" y="173">R15</text>
<text x="792" y="188">C5</text>
<text x="912" y="257">R9</text>
<text x="911" y="302">R4</text>
<text x="912" y="335">R5</text>
<text x="200" y="369">LDO1</text>
<text x="232" y="355">C13</text>
<text x="254" y="356">C14</text>
<text x="302" y="383">C16</text>
<text x="420" y="390">C20</text>
<text x="163" y="417">C11</text>
<text x="189" y="456">R22</text>
<text x="300" y="492">C17</text>
<text x="184" y="489">R17</text>
<text x="159" y="503">C12</text>
<text x="196" y="526">R21</text>
<text x="366" y="518">R20</text>
<text x="336" y="534">C15</text>
<text x="247" y="580">R18</text>
<text x="285" y="580">R19</text>
<text x="153" y="645">R23</text>
<text x="407" y="571">R2</text>
<text x="407" y="614">R3</text>
<text x="439" y="552">LED1</text>
<text x="439" y="647">LED3</text>
<text x="608" y="404">C19</text>
<text x="609" y="423">C21</text>
<text x="610" y="440">C22</text>
<text x="502" y="490" font-size="12" textLength="87" lengthAdjust="spacingAndGlyphs">GD32E230C8T6</text>
<text x="749" y="464">TFT1</text>
<text x="860" y="557">C18</text>
</g>

<!-- bottom chinese labels -->
<rect x="187" y="634" width="67" height="13" fill="#fff"/>
<text x="220.5" y="645" class="cs" font-size="12" text-anchor="middle" textLength="65" lengthAdjust="spacingAndGlyphs">烧录电源指示</text>
<rect x="267" y="634" width="17" height="13" fill="#fff"/>
<text x="275.5" y="645" class="cn" font-size="11" text-anchor="middle" textLength="15" lengthAdjust="spacingAndGlyphs">LED</text>
</svg>
</body></html>
